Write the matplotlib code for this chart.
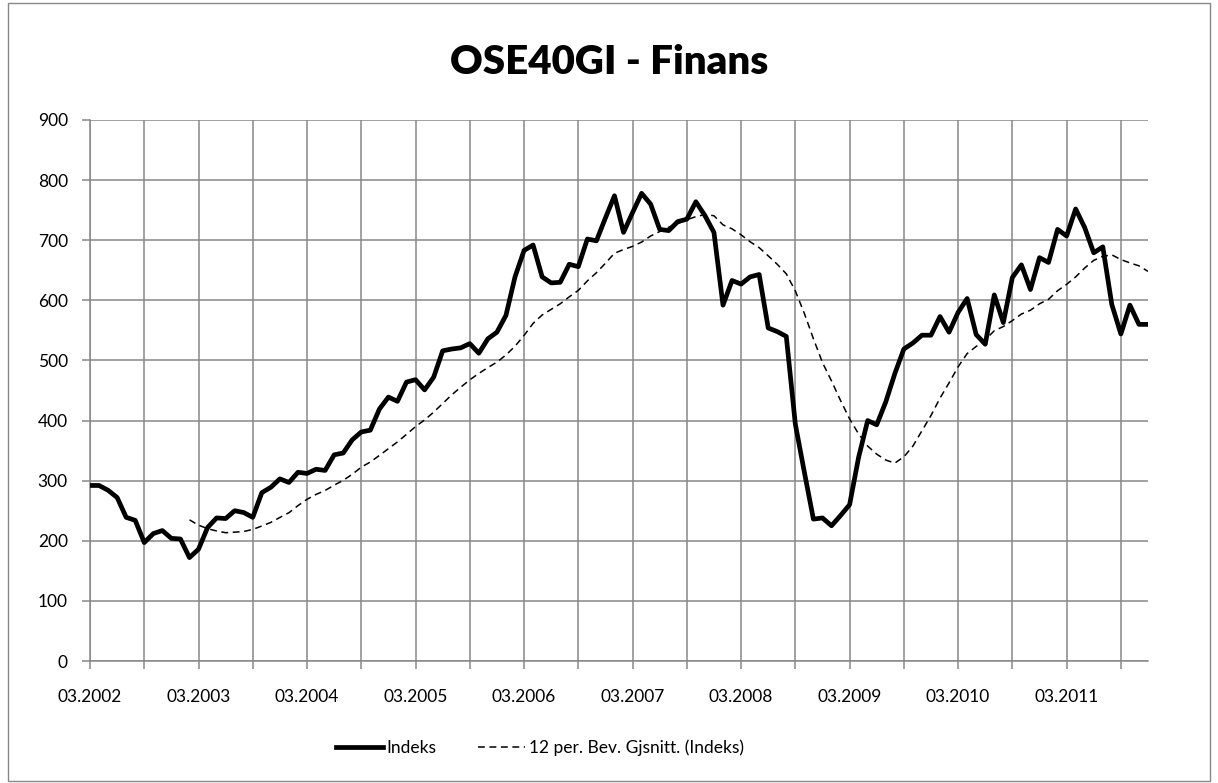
import numpy as np
import pandas as pd
import matplotlib.pyplot as plt
from matplotlib.patches import Rectangle

plt.rcParams['font.family'] = ['Lato', 'DejaVu Sans']

# monthly index values, 03.2002 - 12.2011
indeks = [
    292, 292, 284, 272, 239, 234, 197, 212, 217, 204, 203, 172,
    186, 222, 238, 237, 250, 247, 239, 280, 289, 303, 297, 314,
    312, 319, 317, 343, 346, 368, 381, 384, 419, 439, 432, 464,
    468, 451, 472, 516, 519, 521, 528, 512, 536, 547, 575, 639,
    683, 692, 639, 629, 630, 660, 656, 702, 699, 737, 774, 713,
    746, 778, 760, 718, 716, 731, 735, 764, 741, 713, 592, 633,
    627, 639, 643, 554, 548, 540, 394, 314, 236, 238, 225, 242,
    260, 339, 400, 393, 431, 478, 519, 529, 542, 542, 573, 547,
    580, 603, 543, 527, 609, 563, 638, 659, 618, 671, 663, 718,
    707, 752, 721, 679, 689, 593, 544, 592, 560, 560,
]
months = pd.period_range('2002-03', periods=len(indeks), freq='M')
labels = [m.strftime('%m.%Y') for m in months]

s = pd.Series(indeks, dtype=float)
snitt = s.rolling(12).mean()  # 12 per. glidende gjennomsnitt (Excel trendlinje)

x = np.arange(len(indeks))

fig = plt.figure(figsize=(12.18, 7.83), dpi=100)
ax = fig.add_axes([90 / 1218, 1 - 661 / 783, (1148 - 90) / 1218, (661 - 120) / 783])

grid_c = '#878787'
ax.plot(x, indeks, color='black', lw=3.4, solid_joinstyle='round', label='Indeks', zorder=3)
ax.plot(x, snitt, color='black', lw=1.1, dashes=(4.5, 3), label='12 per. Bev. Gjsnitt. (Indeks)', zorder=3)

ax.set_xlim(0, len(indeks) - 1)
ax.set_ylim(0, 900)
ax.set_yticks(range(0, 901, 100))
ax.set_xticks(x[::6])
ax.set_xticklabels([lab if i % 12 == 0 else '' for i, lab in zip(x[::6], labels[::6])])

ax.grid(True, color=grid_c, lw=1.1)
ax.set_axisbelow(True)
for side in ['top', 'right']:
    ax.spines[side].set_visible(False)
for side in ['left', 'bottom']:
    ax.spines[side].set_color(grid_c)
    ax.spines[side].set_linewidth(1.1)
ax.tick_params(axis='both', colors=grid_c, length=6, width=1.1, labelsize=12.5, labelcolor='black')
ax.tick_params(axis='x', pad=14)
ax.tick_params(axis='y', pad=10)

fig.text(609 / 1218, 1 - 63 / 783, 'OSE40GI - Finans', ha='center', va='center',
         fontsize=29, fontweight='heavy')

leg = fig.legend(loc='center', bbox_to_anchor=(540 / 1218, 1 - 748 / 783), ncol=2, frameon=False,
                 fontsize=12.5, handlelength=2.7, handletextpad=0.2, columnspacing=2.4)

fig.patches.append(Rectangle((8 / 1218, 2 / 783), 1202 / 1218, 778 / 783, transform=fig.transFigure,
                             fill=False, edgecolor='#878787', lw=1))

fig.savefig('out.png', dpi=100)
